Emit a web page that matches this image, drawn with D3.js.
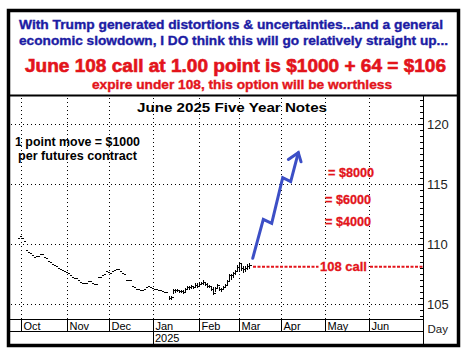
<!DOCTYPE html>
<html><head><meta charset="utf-8">
<script src="https://cdn.jsdelivr.net/npm/d3@7/dist/d3.min.js"></script>
<style>body{margin:0;background:#fff}svg{display:block}</style>
</head><body>
<script>
// ---------- data ----------
const headerBlue = ["With Trump generated distortions & uncertainties...and a general",
                    "economic slowdown, I DO think this will go relatively straight up..."];
const headerRed = "June 108 call at 1.00 point is $1000 + 64 = $106";
const headerRedSmall = "expire under 108, this option will be worthless";
const chartTitle = "June 2025 Five Year Notes";
const noteLines = ["1 point move = $1000", "per futures contract"];
const payoffLabels = ["= $8000", "= $6000", "= $4000"];
const callLabel = "108 call";
const callLevel = 108.13;

const months = ["Oct","Nov","Dec","Jan","Feb","Mar","Apr","May","Jun"];
const monthStartDay = [0,23,44,66,89,109,130,152,174];
const yearLabel = "2025";
const yearMonthIndex = 3;
const priceTicks = [105,110,115,120];
const axisLabel = "Day";

// trading-day index of the first quiet close
const firstDay = -1;
const quietCloses = [
 110.55,110.7,110.5,110.3,109.5,109.35,109.25,109.1,108.95,109.05,
 109.0,109.15,109.15,108.95,108.85,108.6,108.5,108.35,108.3,108.15,
 108.05,107.95,107.85,107.8,107.65,107.6,107.45,107.3,107.2,107.2,
 107.0,106.85,106.78,106.78,106.8,106.93,106.93,106.8,106.65,106.7,
 107.3,107.3,107.43,107.5,107.76,107.7,107.57,107.8,107.85,107.93,
 107.9,107.76,107.6,107.49,107.0,107.0,107.0,106.5,106.45,106.3,
 106.3,106.2,106.17,106.3,106.45,106.5,106.45,106.36,106.3,106.25,
 106.17,106.17,106.1,106.03,106.0];
const barFirstDay = 74;
const barHighs = [105.65,105.7,106.3,106.3,106.3,106.2,106.15,106.15,106.35,106.55,
 106.55,106.6,106.55,106.75,106.75,106.85,106.85,107.0,106.85,106.75,
 106.6,106.5,106.4,106.45,106.7,106.4,106.35,106.5,106.7,107.0,
 107.5,107.55,107.7,107.85,108.3,108.55,108.4,108.2,108.2,108.35,108.4];
const barLows = [105.45,105.4,105.9,106.0,106.1,106.0,106.0,105.95,106.1,106.25,
 106.3,106.35,106.35,106.45,106.4,106.6,106.65,106.7,106.6,106.45,
 106.4,106.2,105.85,106.1,106.4,106.15,106.1,106.25,106.4,106.7,
 106.95,107.1,107.3,107.5,107.75,107.8,107.85,107.7,107.75,107.9,108.0];
const barCloses = [105.55,105.6,106.2,106.2,106.2,106.1,106.1,106.05,106.25,106.45,
 106.4,106.5,106.45,106.6,106.55,106.7,106.8,106.85,106.7,106.55,
 106.5,106.3,105.95,106.35,106.6,106.25,106.3,106.45,106.6,106.95,
 107.4,107.45,107.6,107.75,108.1,108.4,108.0,107.9,108.05,108.2,108.3];

const arrowDays   = [115.85,121.15,125.35,130.85,134.85,138.65];
const arrowPrices = [108.83,112.08,111.75,115.55,115.22,117.63];

// ---------- layout ----------
const W = 462, H = 356;
const frame = {x0: 8.5, y0: 10.5, x1: 458.5, y1: 345.5};
const sepY = 95.5;
const axisX = 423.5;
const plotTop = 96, plotBottom = 319.5;
const monthRowBottom = 331.5;
const RED = "#e3141b", BLUE = "#1c1ca4", ARROW = "#3c4fc6";
const FONT = "'Liberation Sans', Arial, sans-serif";

const x = d3.scaleLinear().domain([-6.5, 201]).range([8, 423]);
const y = d3.scaleLinear().domain([105, 120]).range([304.3, 124.3]);
const px = v => Math.round(v) + 0.5;

const svg = d3.select("body").append("svg").attr("width", W).attr("height", H)
  .style("font-family", FONT);
svg.append("rect").attr("width", W).attr("height", H).attr("fill", "#fff");

// header text (heavy weight emulated with a thin same-colour stroke)
const hdr = svg.append("g").attr("font-weight", "bold").attr("text-anchor", "middle");
hdr.append("text").attr("x", 231).attr("y", 28.5).attr("font-size", 12.5).attr("fill", BLUE)
  .attr("stroke", BLUE).attr("stroke-width", 0.35)
  .attr("textLength", 424).attr("lengthAdjust", "spacingAndGlyphs").text(headerBlue[0]);
hdr.append("text").attr("x", 233.5).attr("y", 45).attr("font-size", 12.5).attr("fill", BLUE)
  .attr("stroke", BLUE).attr("stroke-width", 0.35)
  .attr("textLength", 429).attr("lengthAdjust", "spacingAndGlyphs").text(headerBlue[1]);
hdr.append("text").attr("x", 235.5).attr("y", 72).attr("font-size", 18).attr("fill", RED)
  .attr("stroke", RED).attr("stroke-width", 0.6)
  .attr("textLength", 421).attr("lengthAdjust", "spacingAndGlyphs").text(headerRed);
hdr.append("text").attr("x", 242).attr("y", 88.5).attr("font-size", 12.5).attr("fill", RED)
  .attr("stroke", RED).attr("stroke-width", 0.35)
  .attr("textLength", 300).attr("lengthAdjust", "spacingAndGlyphs").text(headerRedSmall);

// grid (dotted)
const grid = svg.append("g").attr("stroke", "#000").attr("stroke-width", 1)
  .attr("stroke-dasharray", "1,3").attr("shape-rendering", "crispEdges");
grid.selectAll("line.v").data(monthStartDay).join("line")
  .attr("x1", d => px(x(d))).attr("x2", d => px(x(d)))
  .attr("y1", plotTop + 2).attr("y2", plotBottom);
grid.selectAll("line.h").data(priceTicks).join("line")
  .attr("x1", 11).attr("x2", axisX - 4)
  .attr("y1", d => px(y(d))).attr("y2", d => px(y(d)));

// month / year rows
const rows = svg.append("g").attr("stroke", "#000").attr("shape-rendering", "crispEdges");
rows.append("line").attr("x1", 10).attr("x2", axisX).attr("y1", plotBottom).attr("y2", plotBottom);
rows.append("line").attr("x1", 10).attr("x2", axisX).attr("y1", monthRowBottom).attr("y2", monthRowBottom);
rows.selectAll("line.m").data(monthStartDay).join("line")
  .attr("x1", d => px(x(d))).attr("x2", d => px(x(d)))
  .attr("y1", plotBottom).attr("y2", monthRowBottom);
rows.append("line").attr("x1", px(x(monthStartDay[yearMonthIndex]))).attr("x2", px(x(monthStartDay[yearMonthIndex])))
  .attr("y1", monthRowBottom).attr("y2", frame.y1 - 1);
svg.append("g").attr("font-size", 11).attr("fill", "#000")
  .selectAll("text").data(months).join("text")
  .attr("x", (d, i) => x(monthStartDay[i]) + 2.5).attr("y", 329.5).text(d => d);
svg.append("text").attr("x", x(monthStartDay[yearMonthIndex]) + 2).attr("y", 342)
  .attr("font-size", 11).text(yearLabel);

// right axis
const minor = d3.range(104, 122.01, 0.5);
const axL = svg.append("g").attr("transform", `translate(${axisX},0)`)
  .call(d3.axisLeft(y).tickValues(minor).tickSize(4).tickFormat("").tickSizeOuter(0));
axL.select(".domain").remove();
axL.selectAll(".tick line").attr("shape-rendering", "crispEdges")
  .attr("x2", d => priceTicks.includes(d) ? -6 : -4);
svg.append("line").attr("x1", axisX).attr("x2", axisX).attr("y1", sepY).attr("y2", frame.y1 - 1)
  .attr("stroke", "#000").attr("shape-rendering", "crispEdges");
const axR = svg.append("g").attr("transform", `translate(${axisX},0)`)
  .call(d3.axisRight(y).tickValues(priceTicks).tickSize(0).tickPadding(3.5));
axR.select(".domain").remove();
axR.selectAll("text").attr("font-size", 13).attr("font-family", FONT).attr("fill", "#222");
svg.append("text").attr("x", 427.5).attr("y", 333).attr("font-size", 11.5).attr("fill", "#222").text(axisLabel);

// price bars
const bars = svg.append("g").attr("stroke", "#000").attr("stroke-width", 1).attr("shape-rendering", "crispEdges");
bars.selectAll("path.q").data(quietCloses).join("path")
  .attr("d", (c, i) => { const xx = Math.round(x(firstDay + i)); const yy = px(y(c));
    return `M${xx - 1},${yy}H${xx + 1}`; });
bars.selectAll("path.b").data(barCloses).join("path")
  .attr("d", (c, i) => { const xx = px(x(barFirstDay + i));
    return `M${xx},${Math.round(y(barHighs[i]))}V${Math.round(y(barLows[i])) + 1}M${xx},${px(y(c))}H${xx + 2}`; });

// call line
const callY = y(callLevel);
const callG = svg.append("g");
callG.append("line").attr("x1", x(116)).attr("x2", axisX - 0.5).attr("y1", callY).attr("y2", callY)
  .attr("stroke", RED).attr("stroke-width", 2).attr("stroke-dasharray", "3,1.5");
callG.append("rect").attr("x", 318.5).attr("y", callY - 7).attr("width", 50).attr("height", 14).attr("fill", "#fff");
callG.append("text").attr("x", 343.5).attr("y", callY + 4.5).attr("text-anchor", "middle")
  .attr("font-size", 13).attr("font-weight", "bold").attr("fill", RED)
  .attr("stroke", RED).attr("stroke-width", 0.3)
  .attr("textLength", 47).attr("lengthAdjust", "spacingAndGlyphs").text(callLabel);

// payoff labels
const payX = [328, 325, 325], payY = [177, 203.5, 226];
svg.append("g").attr("font-size", 13).attr("font-weight", "bold").attr("fill", RED)
  .attr("stroke", RED).attr("stroke-width", 0.3)
  .selectAll("text").data(payoffLabels).join("text")
  .attr("x", (d, i) => payX[i]).attr("y", (d, i) => payY[i])
  .attr("textLength", 46).attr("lengthAdjust", "spacingAndGlyphs").text(d => d);

// titles
svg.append("text").attr("x", 232).attr("y", 112).attr("text-anchor", "middle")
  .attr("font-size", 13).attr("font-weight", "bold").attr("textLength", 190)
  .attr("lengthAdjust", "spacingAndGlyphs").text(chartTitle);
svg.append("text").attr("x", 15).attr("y", 145.5).attr("font-size", 12).attr("font-weight", "bold")
  .attr("textLength", 125).attr("lengthAdjust", "spacingAndGlyphs").text(noteLines[0]);
svg.append("text").attr("x", 18).attr("y", 160).attr("font-size", 12).attr("font-weight", "bold")
  .attr("textLength", 119).attr("lengthAdjust", "spacingAndGlyphs").text(noteLines[1]);

// blue arrow
const pts = arrowDays.map((d, i) => [x(d), y(arrowPrices[i])]);
svg.append("path").attr("d", d3.line()(pts)).attr("fill", "none").attr("stroke", ARROW)
  .attr("stroke-width", 3).attr("stroke-linejoin", "miter").attr("stroke-linecap", "round");
const tip = pts[pts.length - 1], prev = pts[pts.length - 2];
const ang = Math.atan2(prev[1] - tip[1], prev[0] - tip[0]);
const wing = (a, len) => [tip[0] + len * Math.cos(ang + a), tip[1] + len * Math.sin(ang + a)];
const w1 = wing(0.72, 12), w2 = wing(-0.55, 9.5);
svg.append("path").attr("d", d3.line()([w1, tip, w2])).attr("fill", "none").attr("stroke", ARROW)
  .attr("stroke-width", 3).attr("stroke-linejoin", "miter").attr("stroke-linecap", "round");

// frame
svg.append("line").attr("x1", frame.x0).attr("x2", frame.x1).attr("y1", sepY).attr("y2", sepY)
  .attr("stroke", "#000").attr("stroke-width", 2);
svg.append("rect").attr("x", frame.x0).attr("y", frame.y0)
  .attr("width", frame.x1 - frame.x0).attr("height", frame.y1 - frame.y0)
  .attr("fill", "none").attr("stroke", "#000").attr("stroke-width", 3.5);
</script>
</body></html>
